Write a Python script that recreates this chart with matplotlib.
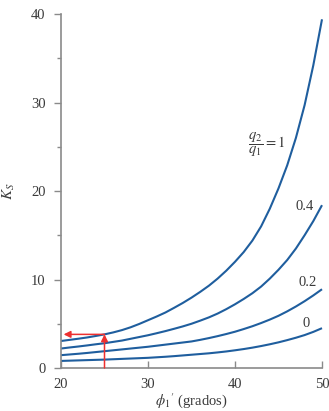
import matplotlib
matplotlib.use("Agg")
import matplotlib.pyplot as plt

plt.rcParams['font.family'] = ['Liberation Serif', 'DejaVu Serif']
plt.rcParams['mathtext.fontset'] = 'stix'

phi = list(range(20, 51))
ks_q1 = [3.05, 3.18, 3.31, 3.45, 3.62, 3.8, 4.02, 4.28, 4.6, 4.98,
         5.4, 5.82, 6.27, 6.8, 7.35, 7.95, 8.6, 9.3, 10.1, 11.0,
         12.0, 13.1, 14.4, 16.0, 18.0, 20.3, 22.9, 26.0, 29.7, 34.2, 39.4]
ks_q04 = [2.2, 2.32, 2.43, 2.55, 2.68, 2.8, 2.95, 3.1, 3.3, 3.5,
          3.7, 3.93, 4.17, 4.43, 4.7, 5.0, 5.35, 5.72, 6.15, 6.65,
          7.2, 7.8, 8.45, 9.2, 10.1, 11.1, 12.2, 13.5, 15.0, 16.6, 18.4]
ks_q02 = [1.45, 1.53, 1.61, 1.7, 1.8, 1.9, 2.0, 2.1, 2.2, 2.3,
          2.4, 2.52, 2.64, 2.76, 2.88, 3.0, 3.18, 3.38, 3.6, 3.84,
          4.1, 4.4, 4.72, 5.08, 5.47, 5.9, 6.4, 6.95, 7.55, 8.2, 8.9]
ks_q0 = [0.8, 0.83, 0.86, 0.89, 0.92, 0.95, 0.99, 1.03, 1.07, 1.11,
         1.15, 1.21, 1.27, 1.34, 1.42, 1.5, 1.58, 1.66, 1.76, 1.87,
         2.0, 2.14, 2.3, 2.48, 2.68, 2.9, 3.15, 3.42, 3.72, 4.08, 4.5]

curve_labels = [r'$\dfrac{q_2}{q_1} = 1$', '0.4', '0.2', '0']
label_pos = [(43.6, 25.2), (48.0, 18.2), (48.3, 9.7), (48.2, 5.0)]

example_phi = 25
example_ks = 3.8
arrow_end_phi = 20.3

xticks = [20, 30, 40, 50]
yticks = [0, 10, 20, 30, 40]
yminor = [5, 15, 25, 35]

blue = '#1f5e9e'
red = '#ee3030'
gray = '#8a8a8a'
txt = '#3a3a3a'
fs = 10.5

fig = plt.figure(figsize=(3.29, 4.11), dpi=100)
ax = fig.add_axes([61/329, 1 - 368/411, (322-61)/329, (368-14)/411])

for ks in (ks_q1, ks_q04, ks_q02, ks_q0):
    ax.plot(phi, ks, color=blue, lw=1.5, clip_on=False, solid_capstyle='butt')

for lab, (px, py) in zip(curve_labels, label_pos):
    ax.text(px, py, lab, ha='center', va='center', fontsize=fs, color=txt)

# red arrows
ax.annotate('', xy=(example_phi, example_ks), xytext=(example_phi, 0),
            arrowprops=dict(arrowstyle='-|>', color=red, lw=1.1,
                            mutation_scale=10, shrinkA=0, shrinkB=0))
ax.annotate('', xy=(arrow_end_phi, example_ks), xytext=(example_phi, example_ks),
            arrowprops=dict(arrowstyle='-|>', color=red, lw=1.1,
                            mutation_scale=10, shrinkA=0, shrinkB=0))

ax.set_xlim(20, 50)
ax.set_ylim(0, 40)
ax.set_xticks(xticks)
ax.set_yticks(yticks)
ax.set_yticks(yminor, minor=True)
ax.set_xticklabels([str(v) for v in xticks])
ax.set_yticklabels([str(v) for v in yticks])

for s in ('top', 'right'):
    ax.spines[s].set_visible(False)
for s in ('left', 'bottom'):
    ax.spines[s].set_color(gray)
    ax.spines[s].set_linewidth(1.2)

ax.tick_params(axis='y', which='major', direction='out', length=5, width=1.0,
               color=gray, labelsize=fs, labelcolor=txt, pad=6)
ax.tick_params(axis='y', which='minor', direction='out', length=3, width=1.0, color=gray)
ax.tick_params(axis='x', which='major', direction='in', length=5, width=1.0,
               color=gray, labelsize=fs, labelcolor=txt, pad=7)

ax.set_xlabel(r"$\phi_1{}^{\prime}$ (grados)", fontsize=fs, color=txt, labelpad=0)
ax.set_ylabel(r'$K_S$', fontsize=fs + 0.5, color=txt)
ax.yaxis.set_label_coords(-0.17, 0.5)

fig.savefig('out.png', dpi=100)
